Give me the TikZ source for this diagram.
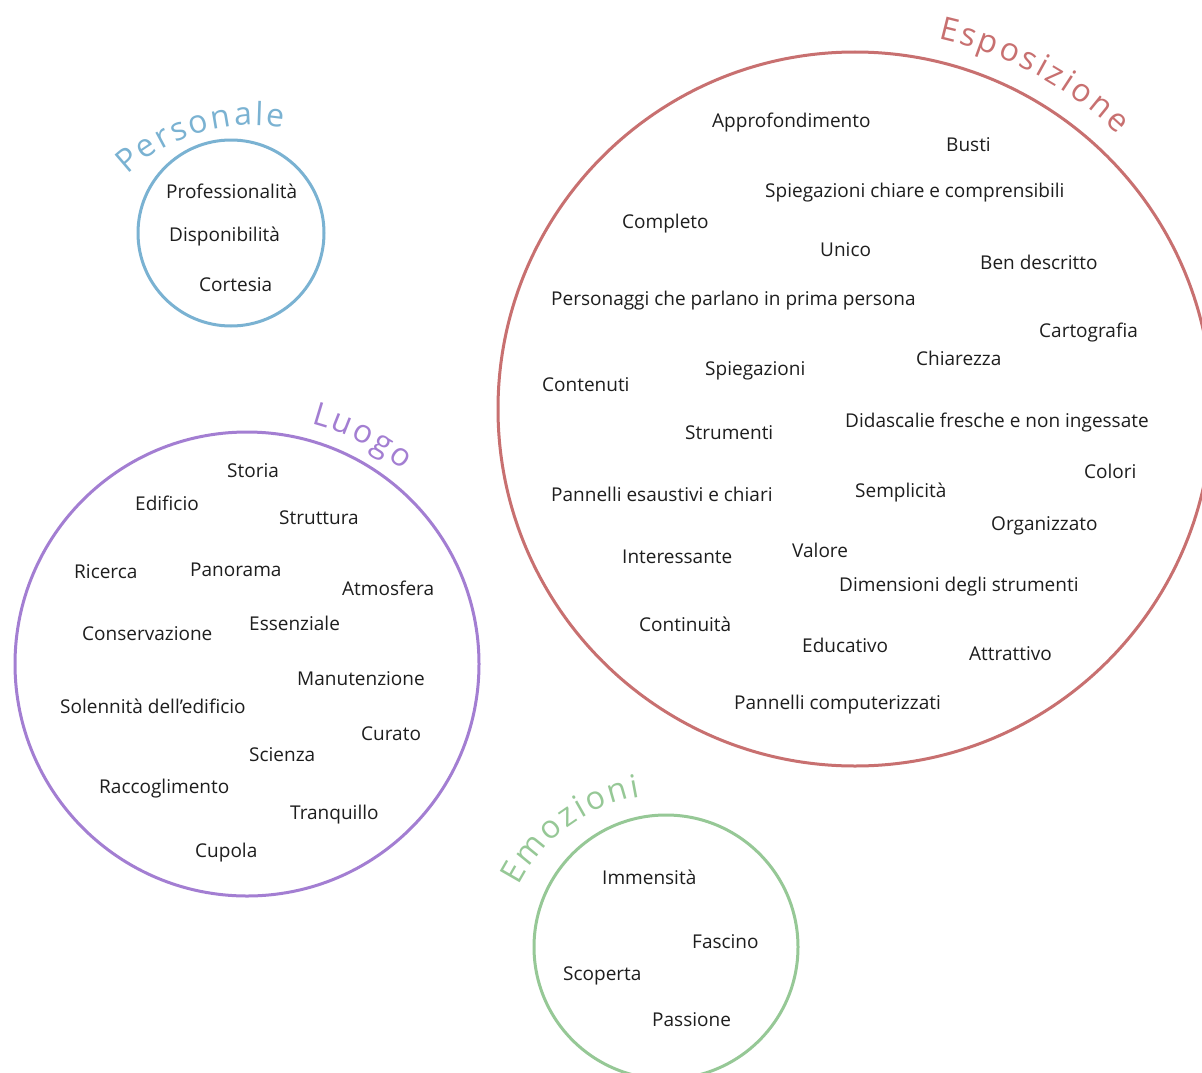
\documentclass[tikz,border=0pt]{standalone}
\usepackage{fontspec}
\setmainfont{Open Sans}
\usetikzlibrary{calc}
\definecolor{cblue}{RGB}{122,178,210}
\definecolor{cred}{RGB}{200,112,112}
\definecolor{cpurple}{RGB}{163,126,210}
\definecolor{cgreen}{RGB}{150,200,150}
\definecolor{ctext}{RGB}{30,30,30}
\newcommand\titlefont{\fontsize{32}{34}\selectfont}
\tikzset{
  ring/.style={line width=3pt},
  word/.style={anchor=base west, inner sep=0pt, text=ctext, font=\fontsize{19}{21}\selectfont},
  letter/.style={anchor=base, inner sep=0pt, font=\titlefont}
}
\newdimen\awtot \newdimen\awfirst \newdimen\awlast \newdimen\awcur
\newcount\awn
% #1 arc centre, #2 baseline radius, #3 first letter angle, #4 last letter angle, #5 colour,
% #6 letters as char/advance (font units of 2048 per em, at 32pt: /64 gives pt)
\newcommand\arcword[6]{%
  \global\awtot=0pt \global\awn=0
  \foreach \ch/\u in {#6}{%
    \global\awcur=\u pt\relax
    \global\divide\awcur by 64\relax
    \ifnum\awn=0 \global\awfirst=\awcur\relax \fi
    \global\awlast=\awcur\relax
    \global\advance\awtot by \awcur\relax
    \global\advance\awn by 1\relax
  }%
  \edef\awT{\the\awtot}\edef\awF{\the\awfirst}\edef\awL{\the\awlast}\edef\awN{\the\awn}%
  \pgfmathsetmacro\awarc{(#3-#4)/57.29578*#2}%
  \pgfmathsetmacro\awsp{(\awarc - (\awT - 0.5*\awF - 0.5*\awL))/(\awN-1)}%
  \global\awtot=0pt
  \foreach \ch/\u [count=\i] in {#6}{%
    \global\awcur=\u pt\relax
    \global\divide\awcur by 64\relax
    \edef\awW{\the\awcur}\edef\awP{\the\awtot}%
    \pgfmathsetmacro\ang{#3 - (\awP + 0.5*\awW - 0.5*\awF + (\i-1)*\awsp)/#2*57.29578}%
    \global\advance\awtot by \awcur\relax
    \node[letter, text=#5, rotate=\ang-90] (#1t\i) at ($(#1)+(\ang:#2 pt)$) {\ch};
  }%
}
\begin{document}
\begin{tikzpicture}[x=1pt,y=-1pt]
\useasboundingbox[fill=white] (0,0) rectangle (1202,1073);
\clip (0,0) rectangle (1202,1073);
% centers
\coordinate (cP) at (231,233);
\coordinate (cE) at (855,409);
\coordinate (cL) at (247,664);
\coordinate (cM) at (666,947);
\coordinate (aP) at (252.7,307.1);
\coordinate (aM) at (666.5,960);
% circles
\draw[ring, cblue] (cP) circle[radius=93pt];
\draw[ring, cred] (cE) circle[radius=357pt];
\draw[ring, cpurple] (cL) circle[radius=232pt];
\draw[ring, cgreen] (cM) circle[radius=132pt];
% curved titles
\arcword{aP}{182}{130.5}{83.1}{cblue}{P/1235,e/1149,r/836,s/977,o/1237,n/1257,a/1139,l/518,e/1149}
\arcword{cE}{380}{76}{47.6}{cred}{E/1112,s/977,p/1255,o/1237,s/977,i/518,z/979,i/518,o/1237,n/1257,e/1149}
\arcword{cL}{249}{73.2}{53.4}{cpurple}{L/1051,u/1257,o/1237,g/1122,o/1237}
\arcword{aM}{165.5}{150.1}{100.5}{cgreen}{E/1112,m/1905,o/1237,z/979,i/518,o/1237,n/1257,i/518}
% Personale words
\foreach \t/\x/\y [count=\i] in {Professionalità/166/192, Disponibilità/169/235, Cortesia/199/285}
  \node[word] (wP\i) at (\x,\y+6) {\t};
% Esposizione words
\foreach \t/\x/\y [count=\i] in {
  Approfondimento/712/121, Busti/946/145, Spiegazioni chiare e comprensibili/765/191,
  Completo/622/222, Unico/820/250, Ben descritto/980/263,
  Personaggi che parlano in prima persona/551/299, Cartografia/1039/331,
  Chiarezza/916/359, Spiegazioni/705/369, Contenuti/542/385,
  Didascalie fresche e non ingessate/845/421, Strumenti/685/433, Colori/1084/472,
  Semplicità/855/491, Pannelli esaustivi e chiari/551/495, Organizzato/991/524,
  Valore/792/551, Interessante/622/557, Dimensioni degli strumenti/839/585,
  Continuità/639/625, Educativo/802/646, Attrattivo/969/654,
  Pannelli computerizzati/734/703}
  \node[word] (wE\i) at (\x,\y+6) {\t};
% Luogo words
\foreach \t/\x/\y [count=\i] in {
  Storia/227/471, Edificio/135/504, Struttura/279/518, Ricerca/74/572,
  Panorama/190/570, Atmosfera/342/589, Conservazione/82/634, Essenziale/249/624,
  Manutenzione/297/679, Solennità dell’edificio/60/707, Curato/361/734,
  Scienza/249/755, Raccoglimento/99/787, Tranquillo/290/813, Cupola/195/851}
  \node[word] (wL\i) at (\x,\y+6) {\t};
% Emozioni words
\foreach \t/\x/\y [count=\i] in {Immensità/602/878, Fascino/692/942, Scoperta/563/974, Passione/652/1020}
  \node[word] (wM\i) at (\x,\y+6) {\t};
\end{tikzpicture}
\end{document}
